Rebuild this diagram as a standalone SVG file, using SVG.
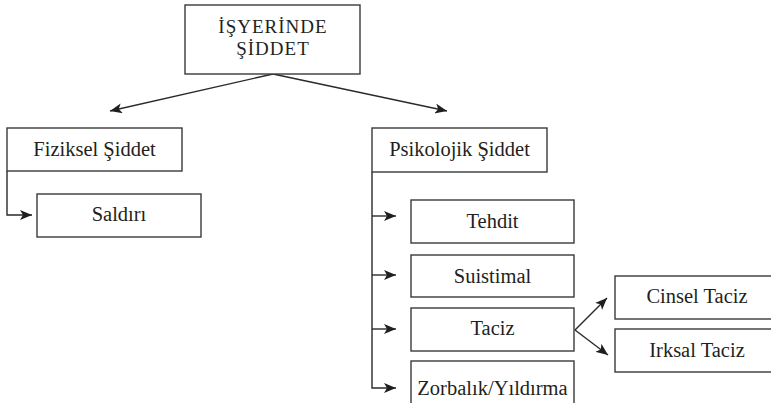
<svg xmlns="http://www.w3.org/2000/svg" width="771" height="403" viewBox="0 0 771 403">
<style>
.box{fill:#fff;stroke:#3a3a3a;stroke-width:1.4}
text{font-family:'Liberation Serif','Times New Roman',serif;font-size:20.5px;fill:#231f20;text-anchor:middle}
.c{fill:none;stroke:#2a2a2a;stroke-width:1.4}
.h{font-size:19px;letter-spacing:1px}
</style>
<defs>
<marker id="ah" viewBox="0 0 12 10" refX="12" refY="5" markerWidth="12" markerHeight="10" markerUnits="userSpaceOnUse" orient="auto">
<path d="M0,0 L12,5 L0,10 L3,5 Z" fill="#1f1f1f"/>
</marker>
</defs>
<rect width="771" height="403" fill="#fff"/>
<g id="connectors">
<path class="c" d="M273,74 L110,111" marker-end="url(#ah)"/>
<path class="c" d="M273,74 L447,111" marker-end="url(#ah)"/>
<path class="c" d="M7,171 L7,215 L32,215" marker-end="url(#ah)"/>
<path class="c" d="M372,172 L372,388 L396,388" marker-end="url(#ah)"/>
<path class="c" d="M372,216 L396,216" marker-end="url(#ah)"/>
<path class="c" d="M372,275 L396,275" marker-end="url(#ah)"/>
<path class="c" d="M372,329 L396,329" marker-end="url(#ah)"/>
<path class="c" d="M575,330 L607,298" marker-end="url(#ah)"/>
<path class="c" d="M575,330 L608,355" marker-end="url(#ah)"/>
</g>
<g id="isyerinde">
<rect class="box" x="185" y="5" width="175" height="69"/>
<text class="h" x="273" y="33">İŞYERİNDE</text>
<text class="h" x="273" y="55">ŞİDDET</text>
</g>
<g id="fiziksel">
<rect class="box" x="7" y="128" width="175" height="43"/>
<text x="94.5" y="156">Fiziksel Şiddet</text>
</g>
<g id="saldiri">
<rect class="box" x="37" y="194" width="164" height="43"/>
<text x="119" y="221">Saldırı</text>
</g>
<g id="psikolojik">
<rect class="box" x="372" y="128" width="175" height="44"/>
<text x="459.5" y="156">Psikolojik Şiddet</text>
</g>
<g id="tehdit">
<rect class="box" x="411" y="200" width="163" height="43"/>
<text x="492.5" y="228">Tehdit</text>
</g>
<g id="suistimal">
<rect class="box" x="411" y="255" width="163" height="42"/>
<text x="492.5" y="283">Suistimal</text>
</g>
<g id="taciz">
<rect class="box" x="411" y="308" width="163" height="43"/>
<text x="492.5" y="335">Taciz</text>
</g>
<g id="zorbalik">
<rect class="box" x="411" y="361" width="163" height="60"/>
<text x="492.5" y="395">Zorbalık/Yıldırma</text>
</g>
<g id="cinsel">
<rect class="box" x="615" y="276" width="170" height="43"/>
<text x="697" y="303">Cinsel Taciz</text>
</g>
<g id="irksal">
<rect class="box" x="615" y="329" width="170" height="43"/>
<text x="697" y="357">Irksal Taciz</text>
</g>
</svg>
